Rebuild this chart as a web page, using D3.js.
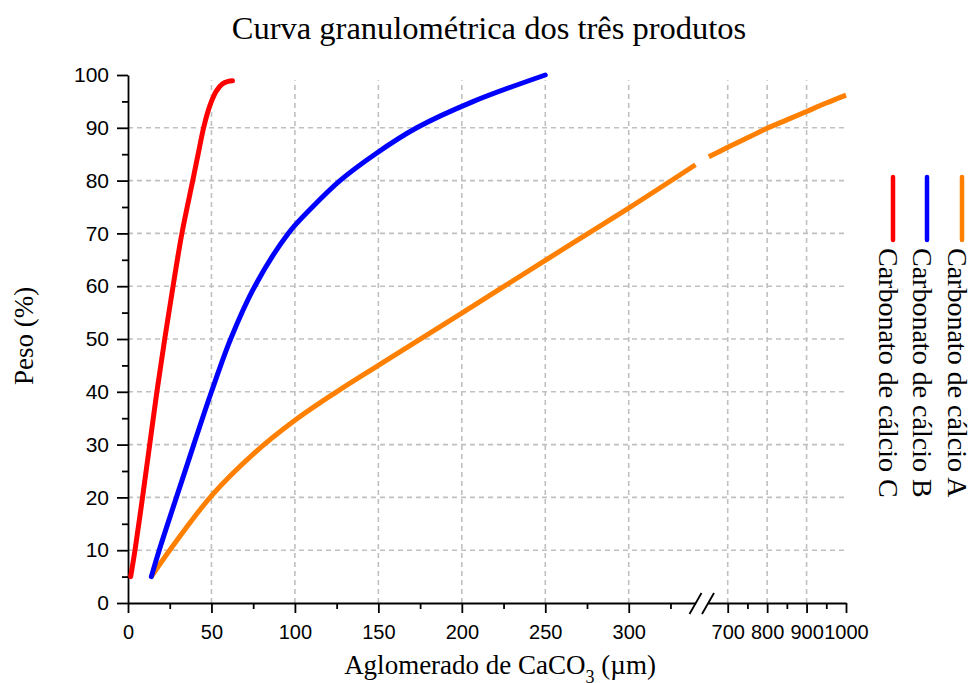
<!DOCTYPE html>
<html lang="pt">
<head>
    <meta charset="UTF-8">
    <title>Curva granulométrica dos três produtos</title>
    <script src="https://d3js.org/d3.v7.min.js"></script>
    <style>
        body { margin: 0; background: #fff; }
        text { fill: #000; }
        .serif { font-family: "Liberation Serif", "Times New Roman", serif; }
        .tick text { font-family: "Liberation Sans", Arial, sans-serif; font-size: 20px; }
        .yaxis .tick text { font-size: 21px; }
        .axis path, .axis line { stroke: #000; stroke-width: 1.8; }
        .grid { stroke: #c0c0c0; stroke-width: 1.6; stroke-dasharray: 5 4; }
    </style>
</head>
<body>
<script>
    // data (x in µm, y in %)
    const seriesA = [[14,5],[25,10],[50,20.3],[75,28.2],[100,34.6],[125,40],[150,45],[200,54.9],
        [250,64.9],[300,74.8],[340,83],
        [652,84.5],[700,86.3],[750,88.1],[800,89.9],[850,91.5],[900,93.1],[950,94.7],[1000,96.2]];
    const seriesB = [[14,5],[18.7,10],[29,20],[39.4,30],[50,40],[61.5,50],[76,60],[96,70],[110.5,75],
        [127,80],[148,85],[173,90],[207,95],[250,100]];
    const seriesC = [[1.6,5],[4.2,10],[8.7,20],[13,30],[17.3,40],[22,50],[27,60],[32.3,70],[38.8,80],
        [42,85],[45.3,90],[47.8,93],[50,95],[53,97],[56.5,98.3],[60,98.8],[62.6,98.9]];
    const seriesNames = ["Carbonato de cálcio A", "Carbonato de cálcio B", "Carbonato de cálcio C"];
    const seriesColors = ["#ff8000", "#0000ff", "#ff0000"];

    const xTicksLeft = [0, 50, 100, 150, 200, 250, 300];
    const xMinorLeft = [25, 75, 125, 175, 225, 275, 325];
    const xTicksRight = [700, 800, 900, 1000];
    const xMinorRight = [750, 850, 950];
    const yTicks = d3.range(0, 101, 10);
    const yMinor = d3.range(5, 100, 10);
    const breakAt = [340, 650];

    const width = 968, height = 683;
    const svg = d3.select("body").append("svg")
        .attr("width", width).attr("height", height);

    // broken x axis: two linear pieces
    const xL = d3.scaleLinear().domain([0, breakAt[0]]).range([128, 695.5]);
    const xR = d3.scaleLinear().domain([breakAt[1], 1000]).range([708, 846]);
    const x = v => v <= breakAt[0] ? xL(v) : xR(v);
    const y = d3.scaleLinear().domain([0, 100]).range([603, 75]);
    const fmt = d3.format("d");

    // grid
    const grid = svg.append("g");
    grid.selectAll("line.h").data(yTicks.filter(d => d > 0 && d < 100)).enter()
        .append("line").attr("class", "grid")
        .attr("x1", xL(0)).attr("x2", xR(1000))
        .attr("y1", d => y(d)).attr("y2", d => y(d));
    grid.selectAll("line.v").data(xTicksLeft.slice(1).concat(xTicksRight.slice(0, 3))).enter()
        .append("line").attr("class", "grid")
        .attr("x1", d => x(d)).attr("x2", d => x(d))
        .attr("y1", y(0)).attr("y2", y(99));

    // axes
    const bottom = svg.append("g").attr("class", "axis").attr("transform", `translate(0,${y(0)})`);
    bottom.append("g").call(d3.axisBottom(xL).tickValues(xTicksLeft).tickFormat(fmt)
        .tickSize(10).tickSizeOuter(0).tickPadding(12));
    bottom.append("g").call(d3.axisBottom(xL).tickValues(xMinorLeft).tickSize(6).tickFormat(""))
        .select(".domain").remove();
    bottom.append("g").call(d3.axisBottom(xR).tickValues(xTicksRight).tickFormat(fmt)
        .tickSize(10).tickSizeOuter(0).tickPadding(12));
    bottom.append("g").call(d3.axisBottom(xR).tickValues(xMinorRight).tickSize(6).tickFormat(""))
        .select(".domain").remove();
    // break marks
    bottom.selectAll("line.brk").data([xL(breakAt[0]), xR(breakAt[1])]).enter()
        .append("line")
        .attr("x1", d => d - 6).attr("y1", 11)
        .attr("x2", d => d + 6).attr("y2", -10);

    const left = svg.append("g").attr("class", "axis yaxis").attr("transform", `translate(${xL(0)},0)`);
    left.append("g").call(d3.axisLeft(y).tickValues(yTicks).tickFormat(fmt)
        .tickSize(11).tickSizeOuter(0).tickPadding(8));
    left.append("g").call(d3.axisLeft(y).tickValues(yMinor).tickSize(6).tickFormat(""))
        .select(".domain").remove();

    // curves (series A is split at the axis break)
    const line = d3.line().x(d => x(d[0])).y(d => y(d[1])).curve(d3.curveCatmullRom.alpha(0.5));
    const pieces = [
        { pts: seriesA.filter(d => d[0] <= breakAt[0]), color: seriesColors[0], cap: "butt" },
        { pts: seriesA.filter(d => d[0] >= breakAt[1]), color: seriesColors[0], cap: "butt" },
        { pts: seriesB, color: seriesColors[1], cap: "round" },
        { pts: seriesC, color: seriesColors[2], cap: "round" }
    ];
    svg.append("g").selectAll("path").data(pieces).enter().append("path")
        .attr("d", d => line(d.pts))
        .attr("fill", "none")
        .attr("stroke", d => d.color)
        .attr("stroke-width", 5)
        .attr("stroke-linecap", d => d.cap)
        .attr("stroke-linejoin", "round");

    // titles
    svg.append("text").attr("class", "serif")
        .attr("x", 489).attr("y", 39)
        .attr("text-anchor", "middle").style("font-size", "32.5px")
        .text("Curva granulométrica dos três produtos");

    svg.append("text").attr("class", "serif")
        .attr("transform", "translate(33,336) rotate(-90)")
        .attr("text-anchor", "middle").style("font-size", "27px")
        .text("Peso (%)");

    const xt = svg.append("text").attr("class", "serif")
        .attr("x", 500).attr("y", 674)
        .attr("text-anchor", "middle").style("font-size", "27px");
    xt.append("tspan").text("Aglomerado de CaCO");
    xt.append("tspan").attr("dy", 9).style("font-size", "18px").text("3");
    xt.append("tspan").attr("dy", -9).text(" (µm)");

    // legend (rotated)
    const legendX = [948, 913, 879];
    const lg = svg.append("g").selectAll("g").data(seriesNames).enter().append("g");
    lg.append("line")
        .attr("x1", (d, i) => legendX[i] + 14).attr("x2", (d, i) => legendX[i] + 14)
        .attr("y1", 177).attr("y2", 240)
        .attr("stroke", (d, i) => seriesColors[i])
        .attr("stroke-width", 4.5).attr("stroke-linecap", "round");
    lg.append("text").attr("class", "serif")
        .attr("transform", (d, i) => `translate(${legendX[i]},248) rotate(90)`)
        .style("font-size", "28px")
        .text(d => d);
</script>
</body>
</html>
